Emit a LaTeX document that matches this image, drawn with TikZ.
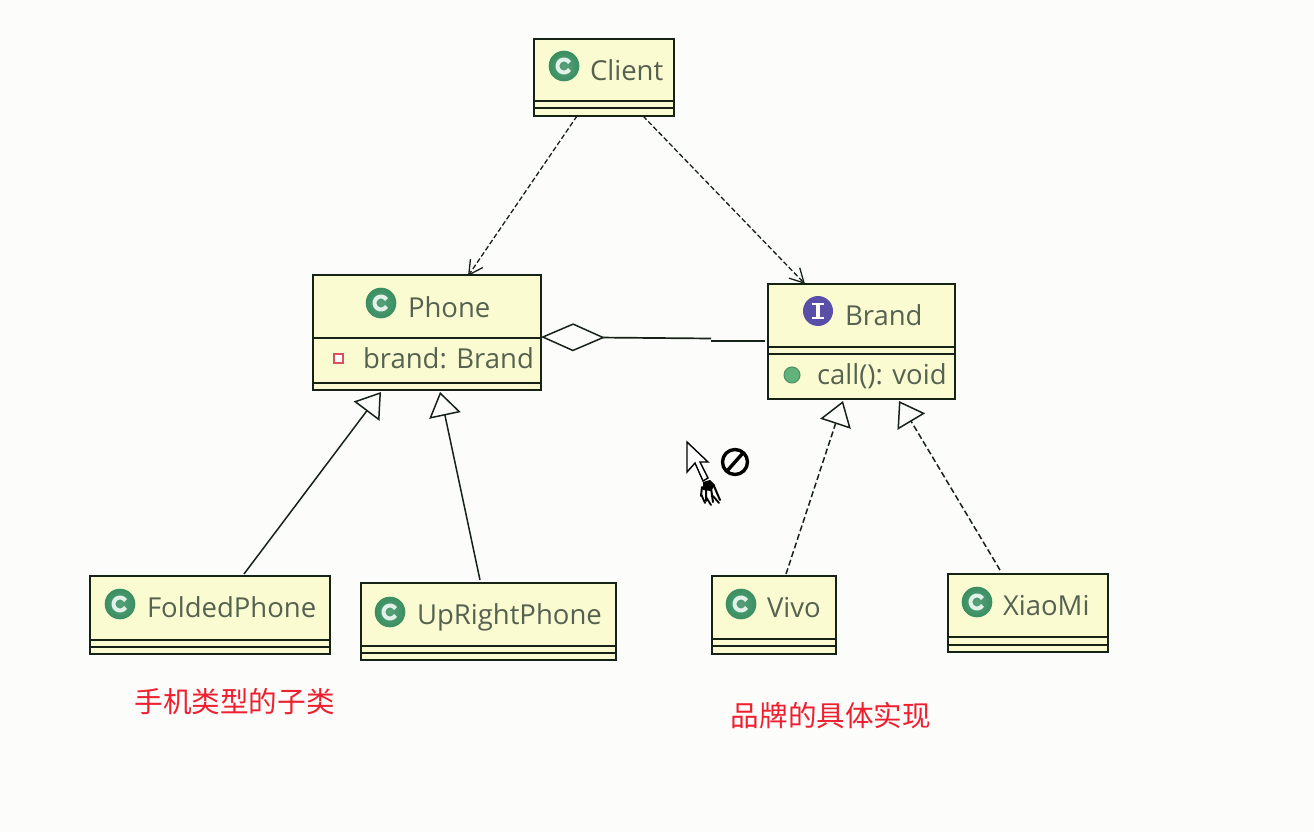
\documentclass[tikz,border=0pt]{standalone}
\usepackage{fontspec}
\setmainfont{Open Sans}
\newfontfamily\cjkfont{Noto Sans CJK SC}
\usetikzlibrary{arrows.meta,calc}
\definecolor{paper}{HTML}{FCFDFB}
\definecolor{classfill}{HTML}{FBFBD2}
\definecolor{classline}{HTML}{162216}
\definecolor{labeltext}{HTML}{566250}
\definecolor{classgreen}{HTML}{3A8F62}
\definecolor{ringlight}{HTML}{E2F2E8}
\definecolor{ifacepurple}{HTML}{5A4FA8}
\definecolor{notered}{HTML}{EE2030}
\definecolor{dotgreen}{HTML}{62B27C}
\definecolor{privred}{HTML}{D9505F}
\tikzset{
  classbox/.style={draw=classline,fill=classfill,line width=2pt,inner sep=0pt,outer sep=0pt},
  rule/.style={draw=classline,line width=1.8pt},
  label/.style={anchor=base west,inner sep=0pt,outer sep=0pt,text=labeltext,font=\fontsize{27.5}{31}\selectfont},
  note/.style={inner sep=0pt,outer sep=0pt,text=notered,font=\cjkfont\fontsize{28.6}{32}\selectfont},
  classicon/.style={circle,minimum size=30pt,inner sep=0pt,outer sep=0pt,draw=classgreen,line width=.6pt,
    inner color=classgreen!85!white,outer color=classgreen,
    path picture={\draw[ringlight,line width=4pt] (path picture bounding box.center)
      ++(32:6.5pt) arc[start angle=32,end angle=328,radius=6.5pt];}},
  ifaceicon/.style={circle,minimum size=30pt,inner sep=0pt,outer sep=0pt,fill=ifacepurple,
    path picture={\draw[white,line width=3.6pt] ([yshift=7pt]path picture bounding box.center) -- ([yshift=-7pt]path picture bounding box.center);
      \draw[white,line width=2.4pt] ([shift={(-6pt,7pt)}]path picture bounding box.center) -- ([shift={(6pt,7pt)}]path picture bounding box.center);
      \draw[white,line width=2.4pt] ([shift={(-6pt,-7pt)}]path picture bounding box.center) -- ([shift={(6pt,-7pt)}]path picture bounding box.center);}},
  dep/.style={draw=classline,line width=1.3pt,dash pattern=on 5pt off 2.5pt,-{Straight Barb[length=14pt,width=15pt,line width=1.3pt]}},
  gen/.style={draw=classline,line width=1.5pt,-{Triangle[open,length=24pt,width=32pt,fill=paper,line width=1.5pt]}},
  real/.style={gen,dash pattern=on 6pt off 3pt},
  assoc/.style={draw=classline,line width=1.7pt},
}
\newcommand{\umlbox}[5]{\node[classbox,minimum width=#4pt,minimum height=#5pt,anchor=north west] (#1) at (#2,#3) {};}
\newcommand{\umlrule}[2]{\draw[rule] ([yshift=-#2pt]#1.north west) -- ([yshift=-#2pt]#1.north east);}
\begin{document}
\begin{tikzpicture}[x=1pt,y=-1pt]
\useasboundingbox[fill=paper] (0,0) rectangle (1314,832);

% classes
\umlbox{client}{534}{39}{140}{77}
\umlbox{phone}{313}{275}{228}{115}
\umlbox{brand}{768}{284}{187}{115}
\umlbox{folded}{90}{576}{240}{78}
\umlbox{upright}{361}{583}{255}{77}
\umlbox{vivo}{712}{576}{124}{78}
\umlbox{xiaomi}{948}{574}{160}{78}

% compartment rules
\umlrule{client}{62}\umlrule{client}{69}
\umlrule{phone}{63}\umlrule{phone}{108}
\umlrule{brand}{63}\umlrule{brand}{70}
\umlrule{folded}{64}\umlrule{folded}{71}
\umlrule{upright}{63}\umlrule{upright}{70}
\umlrule{vivo}{63}\umlrule{vivo}{70}
\umlrule{xiaomi}{63}\umlrule{xiaomi}{71}

% icons
\node[classicon] (iconclient) at (564,66) {};
\node[classicon] (iconphone) at (381,303) {};
\node[ifaceicon] (iconbrand) at (818,311) {};
\node[classicon] (iconfolded) at (120,604) {};
\node[classicon] (iconupright) at (390,612) {};
\node[classicon] (iconvivo) at (741,604) {};
\node[classicon] (iconxiaomi) at (977,602) {};
\node[draw=privred,fill=white,line width=2pt,minimum size=9pt,inner sep=0pt] (iconfield) at (338,358) {};
\node[circle,draw=dotgreen!80!black,fill=dotgreen,line width=1pt,minimum size=16pt,inner sep=0pt] (iconcall) at (792,375) {};

% labels
\node[label] (tclient) at (590,81) {Client};
\node[label] (tphone) at (408,317) {Phone};
\node[label] (tfield) at (363,368) {brand: Brand};
\node[label] (tbrand) at (845,325) {Brand};
\node[label] (tcall) at (817,384) {call(): void};
\node[label] (tfolded) at (147,617) {FoldedPhone};
\node[label] (tupright) at (417,624) {UpRightPhone};
\node[label] (tvivo) at (767,617) {Vivo};
\node[label] (txiaomi) at (1003,615) {XiaoMi};

% notes
\node[note] (notephone) at (234.5,702) {手机类型的子类};
\node[note] (notebrand) at (831,716) {品牌的具体实现};

% connectors
\draw[dep] ([xshift=43pt]client.south west) -- ([xshift=155pt,yshift=-1pt]phone.north west);
\draw[dep] ([xshift=109pt]client.south west) -- ([xshift=37pt]brand.north west);
\coordinate (kinka) at (711,338.5);
\coordinate (kinkb) at (711,341);
\draw[assoc,{Diamond[open,length=64pt,width=28pt,fill=paper,line width=1.5pt]}-] ([yshift=-62pt]phone.north east) -- (kinka);
\draw[assoc] (kinkb) -- ([xshift=-3pt,yshift=-57pt]brand.north west);
\draw[gen] ([xshift=154pt,yshift=2pt]folded.north west) -- ([xshift=68pt,yshift=-2pt]phone.south west);
\draw[gen] ([xshift=119pt,yshift=3pt]upright.north west) -- ([xshift=127pt,yshift=-2pt]phone.south west);
\draw[real] ([xshift=74pt,yshift=2pt]vivo.north west) -- ([xshift=75pt,yshift=-2pt]brand.south west);
\draw[real] ([xshift=52pt,yshift=4pt]xiaomi.north west) -- ([xshift=131pt,yshift=-2pt]brand.south west);

% drag cursor
\draw[black,line width=1.4pt,fill=white,line join=miter]
  (687,442) -- (687,472) -- (695,463) -- (703,481) -- (708,478) -- (700,462) -- (708,462) -- cycle;
\fill[black] (703,482) -- (710,480) -- (715,485) -- (711,491) -- (703,490) -- cycle;
\draw[black,line width=2pt,line cap=round]
  (702,487) -- (701,496) (706,489) -- (706,501) (711,488) -- (713,502) (714,486) -- (720,500);
\draw[black,line width=1.8pt,line cap=round] (701,494) -- (705,503) (706,497) -- (711,505) (713,496) -- (719,503);
\draw[black,line width=3.4pt] (735,462) circle[radius=12.5];
\draw[black,line width=3.4pt] (727,471) -- (743,453);
\end{tikzpicture}
\end{document}
